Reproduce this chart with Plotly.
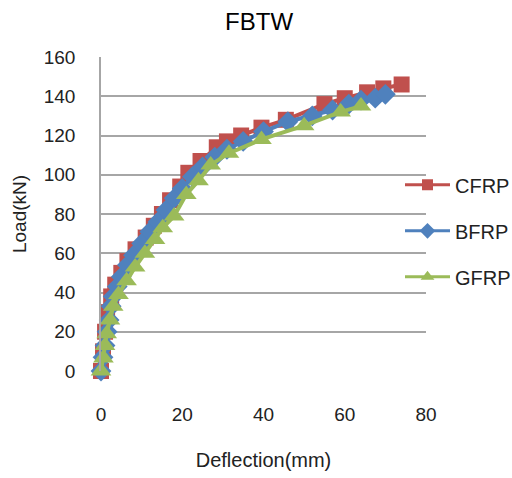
import plotly.graph_objects as go

# CFRP
cfrp_x = [0, 0.5, 1, 1.5, 2.5, 3.5, 5, 6.5, 8.5, 11, 13, 15, 17, 19.5, 21.5, 24.5, 28.5, 31, 34.5, 39.5, 45.5, 55, 60, 65.5, 69.5, 74]
cfrp_y = [0, 10, 20, 30, 38, 44, 50, 56, 62, 68, 74, 80, 87, 94, 101, 107, 114, 117, 120, 124, 128, 136, 139, 142, 144, 146]
# BFRP
bfrp_x = [0, 0.5, 1, 1.5, 2, 2.5, 3, 4, 5, 6.5, 8, 10, 12, 14, 16, 18, 20, 22.5, 25, 28, 31, 35, 40, 46, 52, 57, 61, 64, 67.5, 70]
bfrp_y = [0, 7, 13, 20, 26, 33, 38, 43, 48, 54, 59, 65, 71, 76, 82, 88, 93, 99, 104, 109, 113, 117, 122, 127, 130, 133, 136, 138, 139, 141]
# GFRP
gfrp_x = [0, 0.6, 1, 1.4, 2.2, 3, 4.3, 6.3, 8.4, 10.8, 13.3, 15.2, 18, 21, 24, 27, 31.5, 39.5, 50, 59, 64]
gfrp_y = [0, 6.6, 13, 19, 26, 33, 39, 46, 53, 60, 67, 73, 79, 90, 97, 105, 111, 118, 125, 132, 135]

series = [
    ("CFRP", cfrp_x, cfrp_y, "#C0504D", "square", 16, 11),
    ("BFRP", bfrp_x, bfrp_y, "#4F81BD", "diamond", 16, 12),
    ("GFRP", gfrp_x, gfrp_y, "#9BBB59", "triangle-up", 18, 12),
]

FONT = "Liberation Sans"
fig = go.Figure()
for name, xs, ys, col, sym, sz, lsz in series:
    fig.add_trace(go.Scatter(
        x=xs, y=ys, name=name, mode="lines+markers",
        line=dict(color=col, width=4),
        marker=dict(symbol=sym, size=sz, color=col),
        cliponaxis=False, legendgroup=name, showlegend=False,
    ))
    # legend-only entry with smaller marker, as in the reference
    fig.add_trace(go.Scatter(
        x=[None], y=[None], name=name, mode="lines+markers",
        line=dict(color=col, width=3),
        marker=dict(symbol=sym, size=lsz, color=col),
        legendgroup=name, showlegend=True,
    ))

fig.update_layout(
    width=512, height=478,
    margin=dict(l=101, r=86, t=57, b=107, autoexpand=False),
    paper_bgcolor="white", plot_bgcolor="white",
    font=dict(family=FONT, size=19, color="#222222"),
    title=dict(text="FBTW", x=0.506, xref="container", y=0.955, yanchor="middle",
               font=dict(family=FONT, size=24, color="black")),
    legend=dict(x=0.92, xanchor="left", y=0.655, yanchor="top",
                bgcolor="rgba(0,0,0,0)", tracegroupgap=17, itemwidth=45,
                font=dict(family=FONT, size=20, color="#222222")),
    showlegend=True,
)
fig.update_xaxes(
    range=[0, 80], tickvals=[0, 20, 40, 60, 80], showgrid=False, zeroline=False,
    showline=False, ticks="", ticklabelstandoff=30,
    title=dict(text="Deflection(mm)", standoff=28, font=dict(size=20)),
)
fig.update_yaxes(
    range=[0, 160], tickvals=[0, 20, 40, 60, 80, 100, 120, 140, 160],
    showgrid=True, gridcolor="#A6A6A6", gridwidth=1.5, zeroline=False,
    showline=True, linecolor="#A6A6A6", linewidth=1.5, ticks="", ticklabelstandoff=20,
    title=dict(text="Load(kN)", standoff=12, font=dict(size=19)),
)

fig.write_html("out.html")
